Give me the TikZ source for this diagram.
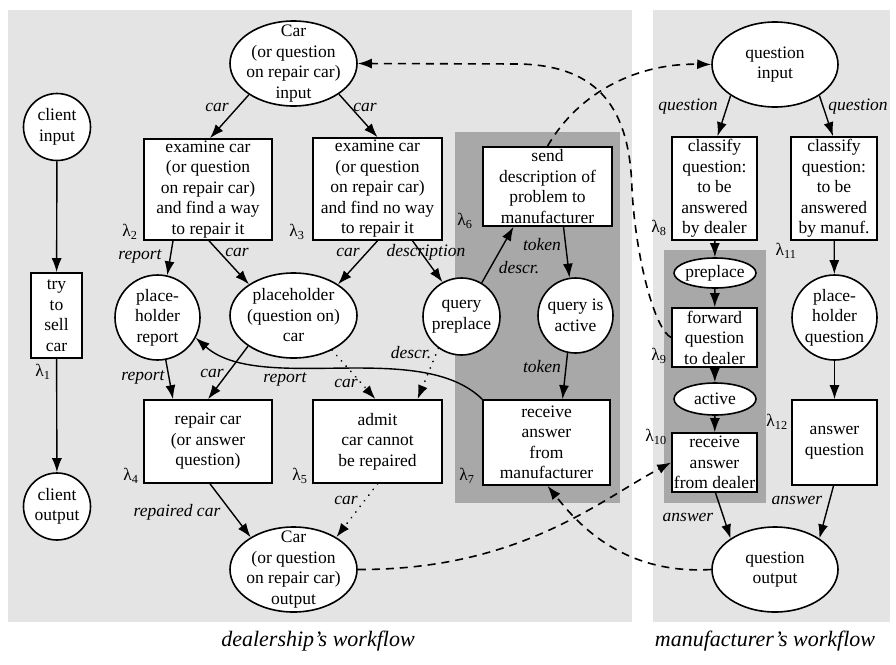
\documentclass[tikz,border=0pt]{standalone}
\usepackage{fontspec}
\setmainfont{Liberation Serif}
\usetikzlibrary{arrows.meta,shapes.geometric}

\definecolor{panel}{gray}{0.895}
\definecolor{darkpanel}{gray}{0.66}

\begin{document}
\begin{tikzpicture}[x=1pt,y=-1pt,
  every node/.style={font=\fontsize{17.5}{20.5}\selectfont, inner sep=0pt},
  box/.style={draw, fill=white, line width=1.6pt, rectangle},
  oval/.style={draw, fill=white, line width=1.6pt, ellipse},
  circ/.style={draw, fill=white, line width=1.6pt, circle},
  txt/.style={align=center},
  lbl/.style={font=\fontsize{17.5}{20.5}\selectfont\itshape},
  lam/.style={font=\fontsize{17.5}{20.5}\selectfont},
  title/.style={font=\fontsize{22}{26}\selectfont\itshape},
  arr/.style={line width=1.4pt, -{Latex[length=14pt,width=10pt]}},
  dashedarr/.style={arr, line width=1.6pt, dash pattern=on 8pt off 6pt},
  dottedarr/.style={arr, line width=1.9pt, line cap=round, dash pattern=on 0.1pt off 7pt}
]
\useasboundingbox (0,0) rectangle (896,664);
\fill[white] (0,0) rectangle (896,664);

% workflow panels
\fill[panel] (8,10) rectangle (632,622);
\fill[panel] (653,10) rectangle (890,622);
\fill[darkpanel] (455,132) rectangle (620,503);
\fill[darkpanel] (664,250) rectangle (766,503);

% ---------- client ----------
\node[circ, minimum size=67pt] (cin) at (57,127) {};
\node[txt] (cin-t) at (cin) {client\\input};
\node[box, minimum width=51pt, minimum height=85pt] (try) at (56.5,315.5) {};
\node[txt] (try-t) at (try) {try\\to\\sell\\car};
\node[circ, minimum size=67pt] (cout) at (57,506.5) {};
\node[txt] (cout-t) at (cout) {client\\output};
\node[lam] (l1) at (43,372) {λ\textsubscript{1}};

% ---------- dealership ----------
\node[oval, minimum width=127pt, minimum height=85pt] (carin) at (293.5,63.5) {};
\node[txt] (carin-t) at (carin) {Car\\(or question\\on repair car)\\input};

\node[box, minimum width=128pt, minimum height=101pt] (lam2) at (208,189.5) {};
\node[txt] (lam2-t) at (lam2) {examine car\\(or question\\on repair car)\\and find a way\\to repair it};
\node[box, minimum width=129pt, minimum height=102pt] (lam3) at (377.5,189) {};
\node[txt] (lam3-t) at (lam3) {examine car\\(or question\\on repair car)\\and find no way\\to repair it};
\node[box, minimum width=129pt, minimum height=79pt] (lam6) at (547.5,186.5) {};
\node[txt] (lam6-t) at (lam6) {send\\description of\\problem to\\manufacturer};

\node[circ, minimum size=85pt] (prep) at (157.5,317.5) {};
\node[txt] (prep-t) at (prep) {place-\\holder\\report};
\node[oval, minimum width=127pt, minimum height=85pt] (phc) at (293.5,315.5) {};
\node[txt] (phc-t) at (phc) {placeholder\\(question on)\\car};
\node[circ, minimum size=77pt] (qp) at (461.5,316.5) {};
\node[txt] (qp-t) at (qp) {query\\preplace};
\node[circ, minimum size=75pt] (qa) at (575.5,315.5) {};
\node[txt] (qa-t) at (qa) {query is\\active};

\node[box, minimum width=128pt, minimum height=83pt] (lam4) at (208,441.5) {};
\node[txt] (lam4-t) at (lam4) {repair car\\(or answer\\question)};
\node[box, minimum width=129pt, minimum height=83pt] (lam5) at (377.5,441.5) {};
\node[txt] (lam5-t) at (lam5) {admit\\car cannot\\be repaired};
\node[box, minimum width=127pt, minimum height=85pt] (lam7) at (546.5,442.5) {};
\node[txt] (lam7-t) at (lam7) {receive\\answer\\from\\manufacturer};

\node[oval, minimum width=127pt, minimum height=85pt] (carout) at (293.5,569.5) {};
\node[txt] (carout-t) at (carout) {Car\\(or question\\on repair car)\\output};

\node[lam] (l2) at (130,232) {λ\textsubscript{2}};
\node[lam] (l3) at (297,232) {λ\textsubscript{3}};
\node[lam] (l4) at (131,476) {λ\textsubscript{4}};
\node[lam] (l5) at (300,476) {λ\textsubscript{5}};
\node[lam] (l6) at (465,221) {λ\textsubscript{6}};
\node[lam] (l7) at (467,476) {λ\textsubscript{7}};

% ---------- manufacturer ----------
\node[oval, minimum width=126pt, minimum height=85pt] (qin) at (775,64.5) {};
\node[txt] (qin-t) at (qin) {question\\input};
\node[box, minimum width=85pt, minimum height=103pt] (lam8) at (714.5,188.5) {};
\node[txt] (lam8-t) at (lam8) {classify\\question:\\to be\\answered\\by dealer};
\node[box, minimum width=86pt, minimum height=103pt] (lam11) at (834,188.5) {};
\node[txt] (lam11-t) at (lam11) {classify\\question:\\to be\\answered\\by manuf.};
\node[oval, minimum width=82pt, minimum height=30pt] (pre) at (715,273) {};
\node[txt] (pre-t) at (pre) {preplace};
\node[box, minimum width=85pt, minimum height=59pt] (lam9) at (714.5,337.5) {};
\node[txt] (lam9-t) at (lam9) {forward\\question\\to dealer};
\node[oval, minimum width=82pt, minimum height=32pt] (act) at (715,399) {};
\node[txt] (act-t) at (act) {active};
\node[box, minimum width=85pt, minimum height=59pt] (lam10) at (714.5,462.5) {};
\node[txt] (lam10-t) at (lam10) {receive\\answer\\from dealer};
\node[circ, minimum size=85pt] (phq) at (834.5,317.5) {};
\node[txt] (phq-t) at (phq) {place-\\holder\\question};
\node[box, minimum width=85pt, minimum height=85pt] (lam12) at (834.5,442.5) {};
\node[txt] (lam12-t) at (lam12) {answer\\question};
\node[oval, minimum width=126pt, minimum height=85pt] (qout) at (775,569.5) {};
\node[txt] (qout-t) at (qout) {question\\output};

\node[lam] (l8) at (659,228) {λ\textsubscript{8}};
\node[lam] (l9) at (659,356) {λ\textsubscript{9}};
\node[lam] (l10) at (656,437) {λ\textsubscript{10}};
\node[lam] (l11) at (786,251) {λ\textsubscript{11}};
\node[lam] (l12) at (777,422) {λ\textsubscript{12}};

% ---------- solid flows ----------
\draw[arr] (cin) -- (try);
\draw[arr] (try) -- (cout);
\draw[arr] (carin.215) -- ([xshift=2pt]lam2.north);
\draw[arr] (carin.326) -- (lam3.north);
\draw[arr] ([xshift=-35pt]lam2.south) -- (prep.77);
\draw[arr] ([xshift=1pt]lam2.south) -- (phc.145);
\draw[arr] (prep.281) -- ([xshift=-35pt]lam4.north);
\draw[arr] (phc.214) -- (lam4.north);
\draw[arr] (lam7.north west) .. controls (420,338) and (260,395) .. (prep.332);
\draw[arr] (lam3.south) -- (phc.35);
\draw[arr] ([xshift=35pt]lam3.south) -- (qp.119);
\draw[arr] (qp.59) -- ([xshift=-34pt]lam6.south);
\draw[arr] ([xshift=16pt]lam6.south) -- (qa.99);
\draw[arr] (qa.258) -- ([xshift=16pt]lam7.north);
\draw[arr] ([xshift=2pt]lam4.south) -- (carout.143);

\draw[arr] (qin.215) -- ([xshift=3pt]lam8.north);
\draw[arr] (qin.325) -- ([xshift=-1pt]lam11.north);
\draw[arr] (lam8) -- (pre);
\draw[arr] (pre) -- (lam9);
\draw[arr] (lam9) -- (act);
\draw[arr] (act) -- (lam10);
\draw[arr] (lam11) -- (phq);
\draw[arr] (phq) -- (lam12);
\draw[arr] ([xshift=1pt]lam10.south) -- (qout.145);
\draw[arr] ([xshift=-1pt]lam12.south) -- (qout.35);

% ---------- dotted flows ----------
\draw[dottedarr] (phc.318) -- ([xshift=-2pt]lam5.north);
\draw[dottedarr] (qp.234) -- ([xshift=40pt]lam5.north);
\draw[dottedarr] (lam5.south) -- (carout.37);

% ---------- dashed message flows ----------
\draw[dashedarr] (carout.east) .. controls (520,570) and (600,500) .. (lam10.west);
\draw[dashedarr] (qout.west) .. controls (620,575) and (575,520) .. ([xshift=1pt]lam7.south);
\draw[dashedarr] (lam9.west) .. controls (655,330) and (636,260) .. (632,190)
  .. controls (630,110) and (600,66) .. (520,64) -- (carin.east);
\draw[dashedarr] (lam6.north) .. controls (580,90) and (640,63) .. (qin.west);

% ---------- flow labels ----------
\node[lbl] (e1) at (217,107) {car};
\node[lbl] (e2) at (365,107) {car};
\node[lbl] (e3) at (140,256) {report};
\node[lbl] (e4) at (237,252) {car};
\node[lbl] (e5) at (143,377) {report};
\node[lbl] (e6) at (212,373) {car};
\node[lbl] (e7) at (285,379) {report};
\node[lbl] (e8) at (348,252) {car};
\node[lbl] (e9) at (426,252) {description};
\node[lbl] (e10) at (519,268) {descr.};
\node[lbl] (e11) at (542,245) {token};
\node[lbl] (e12) at (542,367) {token};
\node[lbl] (e13) at (346,383) {car};
\node[lbl] (e14) at (411,353) {descr.};
\node[lbl] (e15) at (346,500) {car};
\node[lbl] (e16) at (177,512) {repaired car};
\node[lbl] (e17) at (688,107) {question};
\node[lbl] (e18) at (858,107) {question};
\node[lbl] (e19) at (688,517) {answer};
\node[lbl] (e20) at (797,500) {answer};

% ---------- titles ----------
\node[title] (t1) at (318,641) {dealership's workflow};
\node[title] (t2) at (765,641) {manufacturer's workflow};
\end{tikzpicture}
\end{document}
